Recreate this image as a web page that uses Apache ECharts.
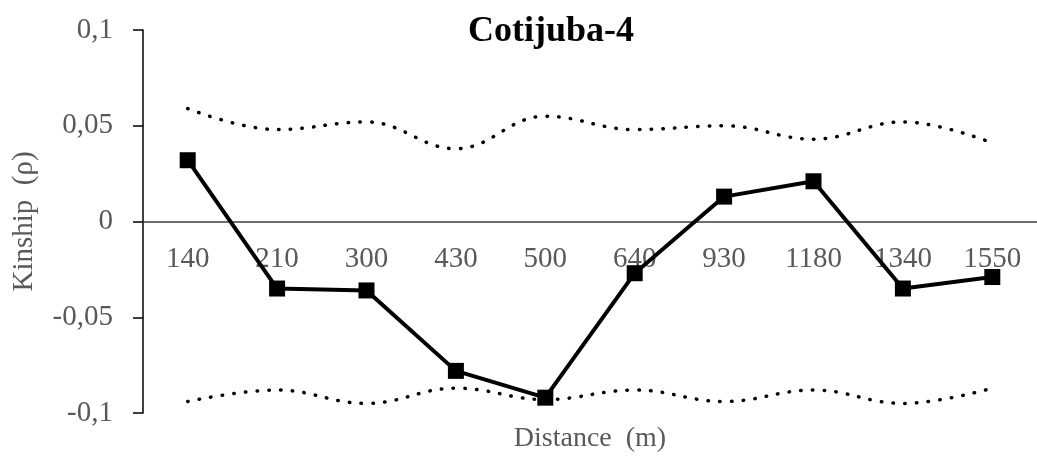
<!DOCTYPE html>
<html>
<head>
<meta charset="utf-8">
<script src="https://cdn.jsdelivr.net/npm/echarts@6/dist/echarts.min.js"></script>
<style>
  html, body { margin: 0; padding: 0; background: #fff; }
  #chart { width: 1037px; height: 457px; }
</style>
</head>
<body>
<div id="chart"></div>
<script>
// Distance classes (m)
const distances = ['140', '210', '300', '430', '500', '640', '930', '1180', '1340', '1550'];
// Observed kinship coefficient per distance class
const kinship = [0.032, -0.035, -0.036, -0.078, -0.092, -0.027, 0.013, 0.021, -0.035, -0.029];
// Upper and lower confidence envelope
const upperLimit = [0.059, 0.048, 0.052, 0.038, 0.055, 0.048, 0.050, 0.043, 0.052, 0.041];
const lowerLimit = [-0.094, -0.088, -0.095, -0.087, -0.093, -0.088, -0.094, -0.088, -0.095, -0.087];
// Value axis range
const yMin = -0.1, yMax = 0.1, yStep = 0.05;

const serif = '"Liberation Serif", "DejaVu Serif", serif';
const grey = '#595959';

const dotted = {
  color: '#000',
  width: 3.5,
  type: [0.5, 11.2],
  cap: 'round'
};

const chart = echarts.init(document.getElementById('chart'));
chart.setOption({
  animation: false,
  backgroundColor: '#fff',
  title: {
    text: 'Cotijuba-4',
    left: 546,
    top: 9,
    textAlign: 'center',
    textStyle: { fontFamily: serif, fontWeight: 'bold', fontSize: 36, color: '#000' }
  },
  grid: { left: 143, right: 0, top: 30, bottom: 44, outerBoundsMode: 'none', containLabel: false },
  xAxis: {
    type: 'category',
    data: distances,
    boundaryGap: true,
    name: 'Distance  (m)',
    nameLocation: 'middle',
    nameGap: 12,
    nameMoveOverlap: false,
    nameTextStyle: { fontFamily: serif, fontSize: 28, color: grey },
    axisLine: { onZero: true, lineStyle: { color: '#404040', width: 1.5 } },
    axisTick: { show: false },
    // labels sit just under the zero line
    axisLabel: { fontFamily: serif, fontSize: 29, color: grey, margin: -168 },
    splitLine: { show: false }
  },
  yAxis: {
    type: 'value',
    min: yMin,
    max: yMax,
    interval: yStep,
    name: 'Kinship  (ρ)',
    nameLocation: 'middle',
    nameGap: 104,
    nameRotate: 90,
    nameMoveOverlap: false,
    nameTextStyle: { fontFamily: serif, fontSize: 29, color: grey },
    axisLine: { show: true, lineStyle: { color: '#000', width: 1.5 } },
    axisTick: { show: true, inside: false, length: 10, lineStyle: { color: '#000', width: 1.5 } },
    axisLabel: {
      fontFamily: serif, fontSize: 29, color: grey, margin: 30,
      formatter: v => String(Math.round(v * 100) / 100).replace('.', ',')
    },
    splitLine: { show: false }
  },
  series: [
    {
      name: 'upper',
      type: 'line',
      data: upperLimit,
      smooth: 0.4,
      symbol: 'none',
      lineStyle: dotted,
      z: 2
    },
    {
      name: 'lower',
      type: 'line',
      data: lowerLimit,
      smooth: 0.4,
      symbol: 'none',
      lineStyle: dotted,
      z: 2
    },
    {
      name: 'kinship',
      type: 'line',
      data: kinship,
      symbol: 'rect',
      symbolSize: 16,
      itemStyle: { color: '#000' },
      lineStyle: { color: '#000', width: 4 },
      z: 3
    }
  ]
});
</script>
</body>
</html>
